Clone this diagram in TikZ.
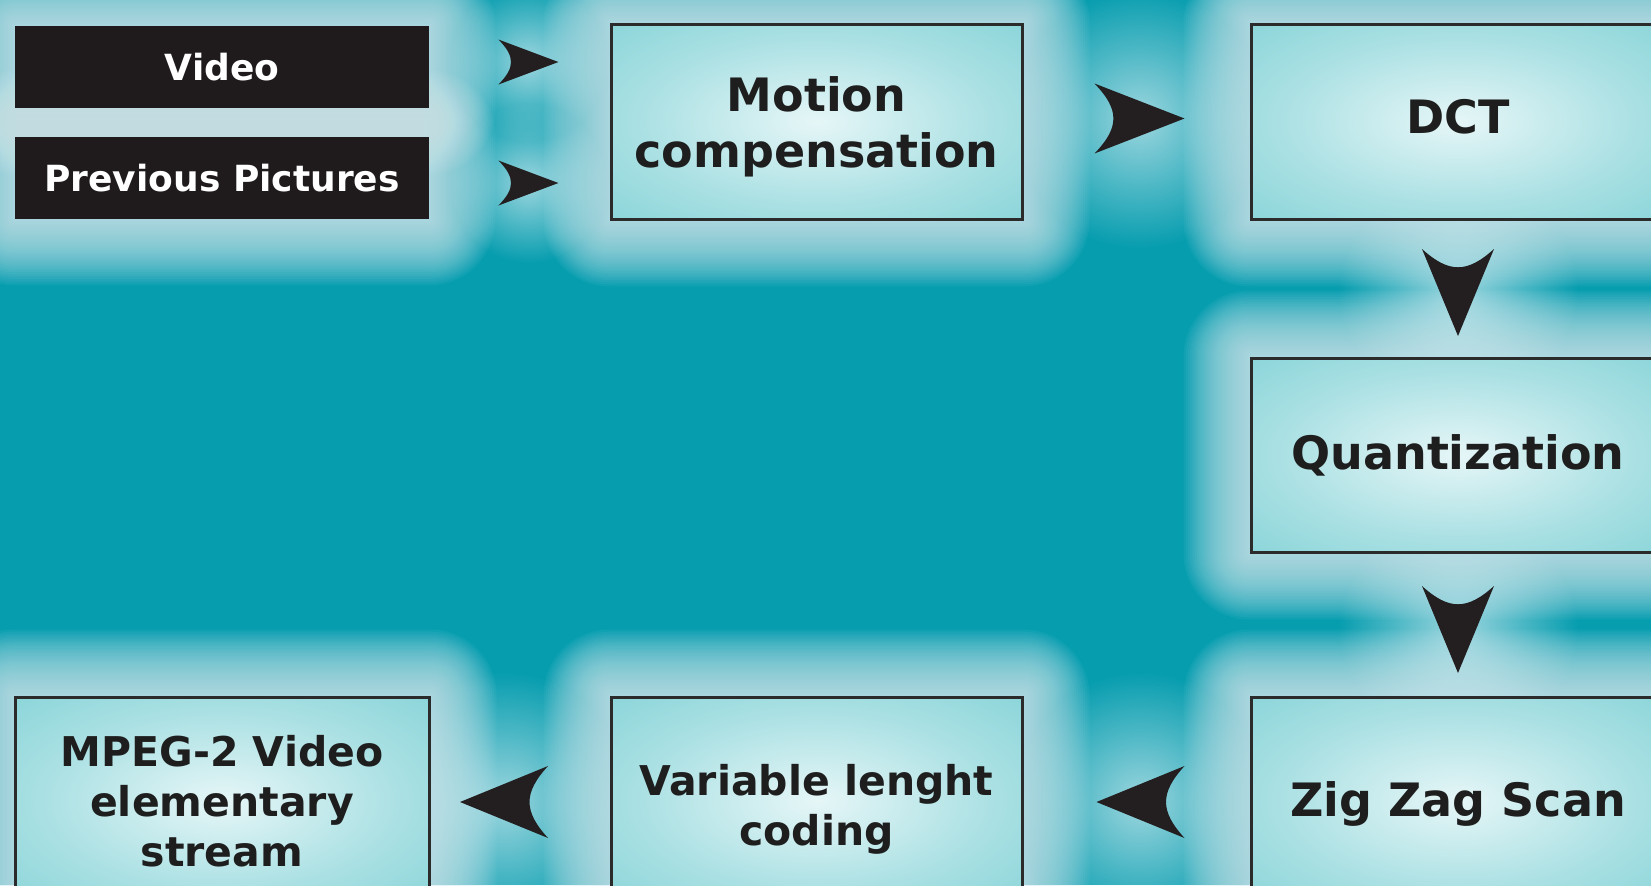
\documentclass[tikz,border=0pt]{standalone}
\usepackage{fontspec}
\setmainfont{DejaVu Sans}
\usetikzlibrary{calc,fadings}
\tikzfading[name=glowfade, inner color=transparent!0, outer color=transparent!100]
\definecolor{bg}{HTML}{069DAF}
\definecolor{glowc}{HTML}{DDEFF3}
\definecolor{boxin}{HTML}{E6F6F7}
\definecolor{boxmid}{HTML}{A9E0E3}
\definecolor{boxout}{HTML}{6CCACF}
\definecolor{bord}{HTML}{2B2B2B}
\definecolor{blk}{HTML}{1F1B1C}
\definecolor{txt}{HTML}{1E1E1E}
\definecolor{arr}{HTML}{231F20}
\pgfdeclareradialshading{boxshade}{\pgfpoint{0bp}{0bp}}{color(0bp)=(boxin); color(22bp)=(boxmid); color(50bp)=(boxout)}
\pgfdeclarelayer{bglayer}
\pgfdeclarelayer{glowlayer}
\pgfsetlayers{bglayer,glowlayer,main}
\newcommand\boxglow[1]{%
  \foreach \gi in {1,...,30}{%
    \pgfmathsetmacro\gd{\gi*2.2}%
    \pgfmathsetmacro\gr{\gi*1.1}%
    \fill[glowc, fill opacity=0.05, rounded corners=\gr pt] ($(#1.north west)+(-\gd,-\gd)$) rectangle ($(#1.south east)+(\gd,\gd)$);
  }}
\newcommand\shiftdown[2]{\raisebox{#1}[\height][\depth]{#2}}
\begin{document}
\begin{tikzpicture}[x=0.5pt,y=-0.5pt,
  box/.style={draw=bord, line width=1.5pt, shading=boxshade, text=txt, align=center,
    font=\bfseries\fontsize{23}{28}\selectfont, inner sep=0pt},
  sbox/.style={box, font=\bfseries\fontsize{20.5}{25}\selectfont},
  blkbox/.style={fill=blk, text=white, font=\bfseries\fontsize{18}{22}\selectfont,
    minimum width=207pt, minimum height=41pt, inner sep=0pt},
  pics/rarrow/.style 2 args={code={\fill[arr] ({#1/2},0) -- ({-#1/2},{-#2/2})
      .. controls ({-#1/2+0.28*#1},{-#2/8}) and ({-#1/2+0.28*#1},{#2/8}) .. ({-#1/2},{#2/2}) -- cycle;}},
  pics/darrow/.style 2 args={code={\fill[arr] (0,{#1/2}) -- ({-#2/2},{-#1/2})
      .. controls ({-#2/8},{-#1/2+0.28*#1}) and ({#2/8},{-#1/2+0.28*#1}) .. ({#2/2},{-#1/2}) -- cycle;}},
  aglow/.style={glowc, path fading=glowfade, fill opacity=0.7}
]
\useasboundingbox (0,0) rectangle (1651,885);
\begin{pgfonlayer}{bglayer}
\fill[bg] (0,0) rectangle (1651,885);
\end{pgfonlayer}

\node[blkbox] (video) at (222,67) {Video};
\node[blkbox] (prev) at (222,178) {Previous Pictures};
\node[box, minimum width=205.5pt, minimum height=97.5pt] (mc) at (816.5,121.5) {\shiftdown{-2.5pt}{\parbox{200pt}{\centering Motion\\compensation}}};
\node[box, minimum width=207pt, minimum height=97.5pt] (dct) at (1458,121.5) {\shiftdown{2.5pt}{DCT}};
\node[box, minimum width=207pt, minimum height=97pt] (quant) at (1458,455) {Quantization};
\node[box, minimum width=207pt, minimum height=104pt] (zz) at (1458,801) {\shiftdown{-1.5pt}{Zig Zag Scan}};
\node[sbox, minimum width=205.5pt, minimum height=104pt] (vlc) at (816.5,801) {\shiftdown{-4pt}{\parbox{200pt}{\centering Variable lenght\\coding}}};
\node[sbox, minimum width=207pt, minimum height=104pt] (mpeg) at (222,801) {MPEG-2 Video\\elementary\\stream};

\coordinate (av) at ($(video.east)+(99,-5)$);
\coordinate (ap) at ($(prev.east)+(99,5)$);
\coordinate (amc) at ($(mc.east)!0.5!(dct.west)+(3,-3)$);
\coordinate (ad) at ($(dct.south)!0.5!(quant.north)+(0,4)$);
\coordinate (aq) at ($(quant.south)!0.5!(zz.north)+(0,5)$);
\coordinate (azz) at ($(zz.west)!0.5!(vlc.east)+(4,1)$);
\coordinate (avlc) at ($(vlc.west)!0.5!(mpeg.east)+(-16,1)$);

\begin{pgfonlayer}{glowlayer}
\foreach \n in {video,prev,mc,dct,quant,zz,vlc,mpeg}{\boxglow{\n}}
\fill[aglow] (av) circle (80);
\fill[aglow] (ap) circle (80);
\fill[aglow] (amc) circle (130);
\fill[aglow] (ad) circle (120);
\fill[aglow] (aq) circle (120);
\fill[aglow] (azz) circle (130);
\fill[aglow] (avlc) circle (130);
\end{pgfonlayer}

\pic at (av) {rarrow={60}{45}};
\pic at (ap) {rarrow={60}{45}};
\pic at (amc) {rarrow={90}{70}};
\pic at (ad) {darrow={87}{72}};
\pic at (aq) {darrow={87}{72}};
\pic[xscale=-1] at (azz) {rarrow={88}{72}};
\pic[xscale=-1] at (avlc) {rarrow={88}{72}};
\end{tikzpicture}
\end{document}
